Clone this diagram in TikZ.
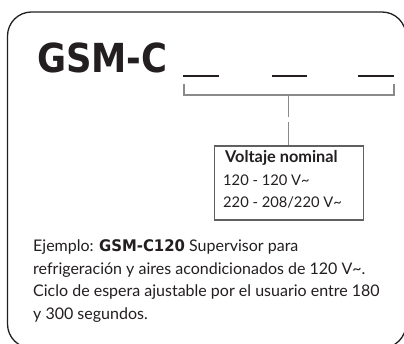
\documentclass[tikz,border=0pt]{standalone}
\usepackage{fontspec}
\setmainfont{Lato}
\newfontfamily\gsmfont{DejaVu Sans}
\definecolor{ink}{HTML}{231F20}
\definecolor{brk}{HTML}{8A8A8A}
\definecolor{boxc}{HTML}{606060}
\tikzset{
  frame/.style={line width=1.3pt, draw=ink, rounded corners=24pt},
  blank/.style={line width=2pt, draw=ink},
  bracketline/.style={line width=1.3pt, draw=brk},
  txt/.style={anchor=base west, inner sep=0pt, text=ink, font=\fontsize{16}{18}\selectfont},
  boxtxt/.style={anchor=base west, inner sep=0pt, text=ink, font=\fontsize{14.7}{17}\selectfont},
}
\begin{document}
\begin{tikzpicture}[x=1pt,y=-1pt]
\useasboundingbox (0,0) rectangle (404,344);
\clip (0,0) rectangle (404,344);
\fill[white] (0,0) rectangle (404,344);
\draw[frame] (7.5,12) rectangle (406,348);
% title
\node[anchor=base west, inner sep=0pt, text=ink, font=\gsmfont\bfseries\fontsize{40}{40}\selectfont] (title) at (37,73) {\scalebox{0.885}[1]{GSM-C}};
% blanks
\draw[blank] (183,76.5) -- (219,76.5);
\draw[blank] (272,76.5) -- (307,76.5);
\draw[blank] (358,76.5) -- (394,76.5);
% bracket
\coordinate (bl) at (184,84);
\coordinate (blc) at (184,95);
\coordinate (brc) at (394,95);
\coordinate (br) at (394,84);
\coordinate (bm) at (288.7,95);
\coordinate (g1) at (288.7,117.5);
\coordinate (g2) at (288.7,122.5);
\draw[bracketline] (bl) -- (blc) -- (brc) -- (br);
\draw[bracketline] (bm) -- (g1);
% box
\node[draw=boxc, line width=1.2pt, minimum width=149pt, minimum height=74pt, anchor=north west, inner sep=0pt] (box) at (214,145.5) {};
\draw[bracketline] (g2) -- (box.north -| g2);
\node[boxtxt, font=\bfseries\fontsize{16.3}{18}\selectfont] (vn) at (225,163) {Voltaje nominal};
\node[boxtxt] (v1) at (223,186) {120 - 120 V\textasciitilde};
\node[boxtxt] (v2) at (223,208) {220 - 208/220 V\textasciitilde};
% example text
\node[txt] (l1) at (33,252) {Ejemplo: {\gsmfont\bfseries\fontsize{16}{18}\selectfont\scalebox{0.93}[1]{GSM-C120}} Supervisor para};
\node[txt] (l2) at (33,275) {refrigeración y aires acondicionados de 120 V\textasciitilde.};
\node[txt] (l3) at (33,297) {Ciclo de espera ajustable por el usuario entre 180};
\node[txt] (l4) at (33,319.5) {y 300 segundos.};
\end{tikzpicture}
\end{document}
